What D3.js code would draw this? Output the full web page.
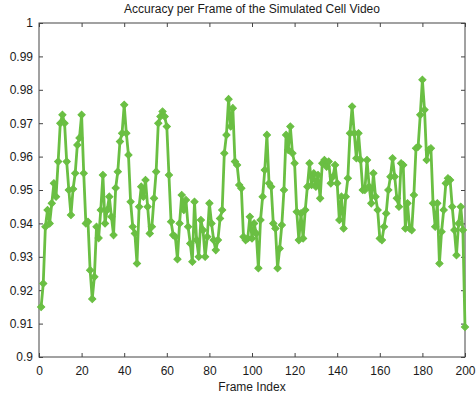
<!DOCTYPE html>
<html>
<head>
<meta charset="utf-8">
<script src="https://cdn.jsdelivr.net/npm/d3@7"></script>
<style>
  body { margin: 0; background: #fff; }
  svg text { font-family: "Liberation Sans", Arial, sans-serif; fill: #1a1a1a; }
</style>
</head>
<body>
<div id="chart"></div>
<script>

// accuracy per frame (frames 1..200)
var acc1 = [0.915, 0.922, 0.939, 0.944, 0.940, 0.946, 0.952, 0.948, 0.9585, 0.970,
            0.9725, 0.970, 0.9585, 0.950, 0.9425, 0.9503, 0.955, 0.9635, 0.9656, 0.9725,
            0.955, 0.940, 0.9405, 0.926, 0.9174, 0.924, 0.939, 0.9356, 0.944, 0.9545,
            0.940, 0.944, 0.948, 0.942, 0.9365, 0.9506, 0.9555, 0.9645, 0.967, 0.9755,
            0.967, 0.9605, 0.9465, 0.939, 0.937, 0.928, 0.945, 0.951, 0.948, 0.953];
var acc2 = [0.945, 0.937, 0.939, 0.9475, 0.9555, 0.970, 0.972, 0.9735, 0.972, 0.969,
            0.9545, 0.9405, 0.9365, 0.936, 0.9293, 0.940, 0.9485, 0.944, 0.947, 0.939,
            0.934, 0.9285, 0.9465, 0.935, 0.930, 0.941, 0.938, 0.930, 0.936, 0.946,
            0.940, 0.935, 0.932, 0.935, 0.9415, 0.944, 0.961, 0.9665, 0.9772, 0.969,
            0.9745, 0.9585, 0.9575, 0.9515, 0.9505, 0.936, 0.935, 0.9355, 0.942, 0.9355];
var acc3 = [0.940, 0.937, 0.9266, 0.941, 0.948, 0.956, 0.9665, 0.952, 0.951, 0.940,
            0.9385, 0.9266, 0.9325, 0.9395, 0.950, 0.9665, 0.962, 0.969, 0.961, 0.958,
            0.9435, 0.935, 0.943, 0.9355, 0.944, 0.951, 0.958, 0.9515, 0.955, 0.951,
            0.9545, 0.9475, 0.958, 0.959, 0.957, 0.9585, 0.952, 0.954, 0.9575, 0.952,
            0.941, 0.948, 0.9385, 0.948, 0.9535, 0.967, 0.975, 0.967, 0.9595, 0.967,
            0.959, 0.950];
var acc4 = [0.950, 0.959, 0.951, 0.946, 0.955, 0.948, 0.944, 0.9355, 0.935, 0.939,
            0.943, 0.950, 0.954, 0.9595, 0.954, 0.9475, 0.945, 0.958, 0.9575, 0.9385,
            0.946, 0.9385, 0.938, 0.9485, 0.9625, 0.963, 0.9725, 0.983, 0.974, 0.959,
            0.962, 0.9625, 0.946, 0.939, 0.946, 0.928, 0.9375, 0.944, 0.952, 0.9535,
            0.953, 0.945, 0.938, 0.9305, 0.940, 0.945, 0.938, 0.909];

var accuracy = acc1.concat(acc2, acc3, acc4);
var frames = d3.range(1, accuracy.length + 1);

var xTicks = [0, 20, 40, 60, 80, 100, 120, 140, 160, 180, 200];
var yTicks = [0.9, 0.91, 0.92, 0.93, 0.94, 0.95, 0.96, 0.97, 0.98, 0.99, 1];

var data = frames.map(function(f, i) { return {frame: f, value: accuracy[i]}; });

var margin = {top: 23, right: 11, bottom: 41, left: 39},
    width = 476 - margin.left - margin.right,
    height = 398 - margin.top - margin.bottom;

var svg = d3.select("#chart")
  .append("svg")
    .attr("width", 476)
    .attr("height", 398)
  .append("g")
    .attr("transform", "translate(" + margin.left + "," + margin.top + ")");

var x = d3.scaleLinear().domain([0, 200]).range([0, width]);
var y = d3.scaleLinear().domain([0.9, 1]).range([height, 0]);

var fmt = function(d) { return d3.format("")(+d.toFixed(2)); };

// bottom + left axes with labels, ticks pointing inward
svg.append("g")
  .attr("transform", "translate(0," + height + ")")
  .call(d3.axisBottom(x).tickValues(xTicks).tickSize(-4).tickPadding(9).tickFormat(d3.format("d")))
  .call(function(g) { g.select(".domain").remove(); });

svg.append("g")
  .call(d3.axisLeft(y).tickValues(yTicks).tickSize(-4).tickPadding(6).tickFormat(fmt))
  .call(function(g) { g.select(".domain").remove(); });

// top + right mirror ticks
svg.append("g")
  .call(d3.axisTop(x).tickValues(xTicks).tickSize(-4).tickFormat(""))
  .call(function(g) { g.select(".domain").remove(); });

svg.append("g")
  .attr("transform", "translate(" + width + ",0)")
  .call(d3.axisRight(y).tickValues(yTicks).tickSize(-4).tickFormat(""))
  .call(function(g) { g.select(".domain").remove(); });

svg.selectAll(".tick line").attr("stroke", "#444");
svg.selectAll(".tick text").attr("font-size", "12px").attr("fill", "#1a1a1a");

// box
svg.append("rect")
  .attr("x", 0).attr("y", 0)
  .attr("width", width).attr("height", height)
  .attr("fill", "none")
  .attr("stroke", "#444")
  .attr("stroke-width", 1);

var green = "#6abf43";

svg.append("path")
  .datum(data)
  .attr("fill", "none")
  .attr("stroke", green)
  .attr("stroke-width", 2.8)
  .attr("stroke-linejoin", "round")
  .attr("d", d3.line()
    .x(function(d) { return x(d.frame); })
    .y(function(d) { return y(d.value); }));

// diamond markers (rotated squares)
svg.append("g")
  .selectAll("path")
  .data(data)
  .enter()
  .append("path")
    .attr("d", d3.symbol().type(d3.symbolSquare).size(26))
    .attr("transform", function(d) {
      return "translate(" + x(d.frame) + "," + y(d.value) + ") rotate(45)";
    })
    .attr("fill", green)
    .attr("stroke", green)
    .attr("stroke-width", 1);

// title and x label
svg.append("text")
  .attr("x", width / 2)
  .attr("y", -10)
  .attr("text-anchor", "middle")
  .attr("font-size", "12px")
  .text("Accuracy per Frame of the Simulated Cell Video");

svg.append("text")
  .attr("x", width / 2)
  .attr("y", height + 34)
  .attr("text-anchor", "middle")
  .attr("font-size", "12px")
  .text("Frame Index");

</script>
</body>
</html>
